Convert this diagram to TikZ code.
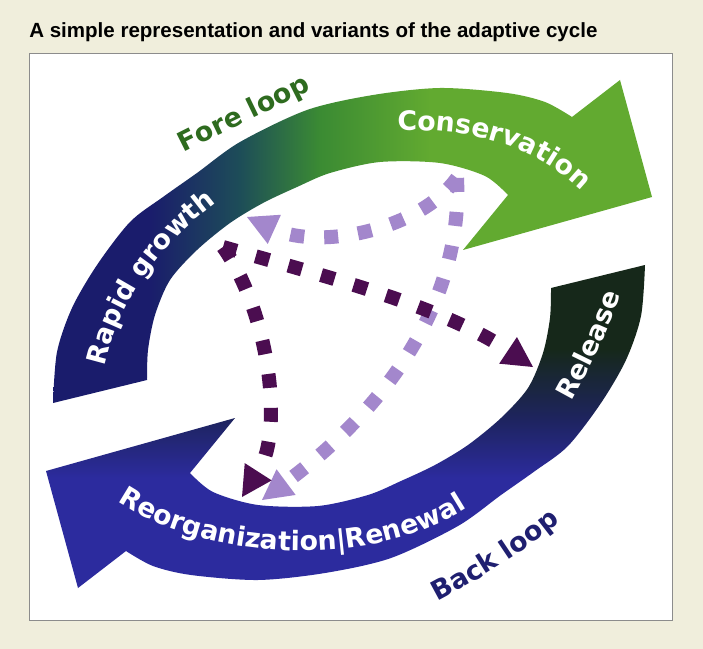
\documentclass[tikz,border=0pt]{standalone}
\usepackage{fontspec}
\setmainfont{Liberation Sans}
\newfontfamily\labelfont{DejaVu Sans}
\usetikzlibrary{arrows.meta, decorations.text, positioning}

\definecolor{pagebg}{HTML}{F0EEDC}
\definecolor{panelline}{HTML}{8C8C8C}
\definecolor{foreblue}{HTML}{1A1C6C}
\definecolor{foreteal}{HTML}{1D4D58}
\definecolor{foremid}{HTML}{3B8B33}
\definecolor{foregreen}{HTML}{62AA30}
\definecolor{backdark}{HTML}{16281A}
\definecolor{backnavy}{HTML}{1E2460}
\definecolor{backblue}{HTML}{2C2B9E}
\definecolor{foretext}{HTML}{2E6B1F}
\definecolor{backtext}{HTML}{1F1F70}
\definecolor{deeppurple}{HTML}{4B0D50}
\definecolor{lightpurple}{HTML}{A387CC}

% colour runs of the two big arrows
\pgfdeclarehorizontalshading{foreshade}{100bp}{color(0bp)=(foreblue); color(33bp)=(foreblue); color(40.6bp)=(foreteal); color(47.3bp)=(foremid); color(56.5bp)=(foregreen); color(100bp)=(foregreen)}
\pgfdeclareverticalshading{backshade}{100bp}{color(0bp)=(backblue); color(42bp)=(backblue); color(51bp)=(backnavy); color(62bp)=(backdark); color(100bp)=(backdark)}

\newcommand{\lblfont}{\labelfont\bfseries\fontsize{19}{19}\selectfont}
% outline of one cycle arrow (fore loop); the back loop is the same turned half round
\newcommand{\cyclearrow}{plot[smooth] coordinates {(53,403) (57,352) (72,308) (97,265) (130,222) (163,197) (197,173) (240,142) (307,110) (373,95) (440,88) (507,93) (545,102) (572,117)} -- (620,80) -- (652,197) -- (463,250) -- plot[smooth] coordinates {(508,195) (485,176) (440,163) (380,162) (330,173) (297,187) (263,203) (230,223) (197,250) (170,280) (155,315) (148,350) (147,380)} -- cycle}

\begin{document}
\begin{tikzpicture}[
    x=0.025cm, y=-0.025cm,
    panelbox/.style={rectangle, draw=panelline, fill=white, line width=0.9pt, minimum width=16.075cm, minimum height=14.175cm, inner sep=0pt},
    titletext/.style={anchor=base west, inner sep=0pt, font=\bfseries\fontsize{14.6}{17}\selectfont},
    darkdash/.style={draw=deeppurple, line width=0.35cm, dash pattern=on 0.35cm off 0.5cm, -{Triangle[length=0.75cm, width=0.8cm, line width=0pt]}},
    lightdash/.style={darkdash, draw=lightpurple},
    looplabel/.style={decorate, decoration={text along path, text align=center, text format delimiters={[}{]}, text color=#1}}
]

\path[use as bounding box, fill=pagebg] (0,0) rectangle (703,649);

% Frame and title
\node[panelbox, anchor=north west] (panel) at (29,53) {};
\node[titletext] (title) at (29,37.3) {A simple representation and variants of the adaptive cycle};

% Fore loop and back loop
\shade[shading=foreshade] \cyclearrow;
\begin{scope}[rotate around={180:(349,334)}]
\shade[shading=backshade] \cyclearrow;
\end{scope}

% Phase points
\coordinate (growth_pt) at (223,247);
\coordinate (conserv_pt) at (457,178);
\coordinate (release_end) at (533,367);
\coordinate (renewal_end) at (242,497);
\coordinate (renewal_end2) at (262,500);
\coordinate (growth_end) at (247,217);

% Variants of the cycle
\draw[lightdash] (conserv_pt) .. controls (420,230) and (320,250) .. (growth_end);
\draw[lightdash] (conserv_pt) .. controls (462,280) and (410,390) .. (renewal_end2);
\draw[darkdash] (growth_pt) .. controls (320,275) and (440,305) .. (release_end);
\draw[darkdash] (growth_pt) .. controls (268,310) and (285,430) .. (renewal_end);

% Labels along the loops
\path[looplabel=foretext, decoration={text={[\lblfont]Fore loop}}] (160,165) .. controls (210,138) and (270,112) .. (335,78);
\path[looplabel=white, decoration={text={[\lblfont]Conservation}}] (385,131) .. controls (450,127) and (530,135) .. (590,200);
\path[looplabel=white, decoration={text={[\lblfont]Rapid growth}}] (100,392) .. controls (108,320) and (150,245) .. (238,188);
\path[looplabel=white, decoration={text={[\lblfont]Release}}] (552,435) .. controls (582,385) and (612,330) .. (632,258);
\path[looplabel=white, decoration={text={[\lblfont]Reorganization|Renewal}}] (100,488) .. controls (180,560) and (380,580) .. (485,495);
\path[looplabel=backtext, decoration={text={[\lblfont]Back loop}}] (400,620) .. controls (455,595) and (530,552) .. (592,495);

\end{tikzpicture}
\end{document}
